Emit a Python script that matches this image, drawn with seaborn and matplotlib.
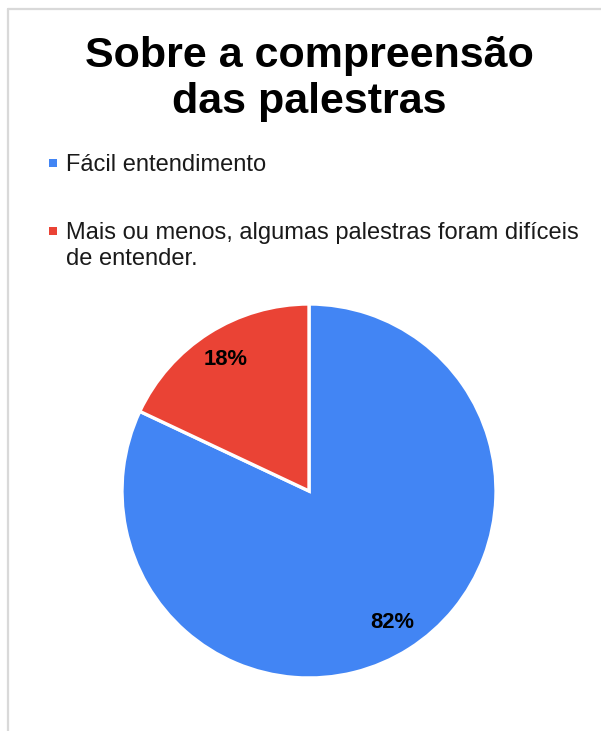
import matplotlib
matplotlib.use("Agg")
import matplotlib.pyplot as plt
from matplotlib.patches import Rectangle
from matplotlib.lines import Line2D
import seaborn as sns

# Survey answers about how easy the talks were to follow
categories = [
    "Fácil entendimento",
    "Mais ou menos, algumas palestras foram difíceis\nde entender.",
]
shares = [82, 18]
title_text = "Sobre a compreensão\ndas palestras"

sns.set_theme(style="white")
plt.rcParams["font.family"] = ["Liberation Sans", "DejaVu Sans"]

colors = ["#4285F4", "#EA4335"]

W, H = 601, 731
fig = plt.figure(figsize=(W / 100, H / 100), dpi=100)
fig.patch.set_facecolor("white")


def fx(px):
    return px / W


def fy(py):
    return 1 - py / H


# Pie placed in a square box (pixel geometry)
cx, cy, r = 309, 491, 187
ax = fig.add_axes([fx(cx - r), fy(cy + r), 2 * r / W, 2 * r / H])
wedges, _, autotexts = ax.pie(
    shares,
    colors=colors,
    startangle=90,
    counterclock=False,
    autopct=lambda p: f"{p:.0f}%",
    pctdistance=0.83,
    wedgeprops=dict(edgecolor="white", linewidth=2.4),
    textprops=dict(fontsize=15.8, fontweight="bold", color="black"),
)
ax.set_xlim(-1, 1)
ax.set_ylim(-1, 1)
ax.set_aspect("equal")
ax.axis("off")

# Title (baseline given for the last line)
fig.text(fx(309), fy(112.7), title_text, ha="center", va="baseline",
         fontsize=31, fontweight="bold", color="black", linespacing=1.17)

# Legend entries drawn as colored squares with labels
# (marker centre, baseline of the label's last line)
legend_rows = [(163, 171), (230.5, 265)]
for (my, base), label, col in zip(legend_rows, categories, colors):
    fig.patches.append(Rectangle((fx(49), fy(my + 4)), 8 / W, 8 / H,
                                 transform=fig.transFigure, facecolor=col,
                                 edgecolor="none"))
    fig.text(fx(66), fy(base), label, ha="left", va="baseline",
             fontsize=17, color="#1a1a1a", linespacing=1.26)

# Light frame along the top and left edges
frame = "#d9d9d9"
fig.lines.append(Line2D([fx(7.5), 1], [fy(8.5), fy(8.5)], transform=fig.transFigure,
                        color=frame, linewidth=1.6))
fig.lines.append(Line2D([fx(7.5), fx(7.5)], [fy(8.5), 0], transform=fig.transFigure,
                        color=frame, linewidth=1.6))

fig.savefig("out.png", dpi=100, facecolor="white")
